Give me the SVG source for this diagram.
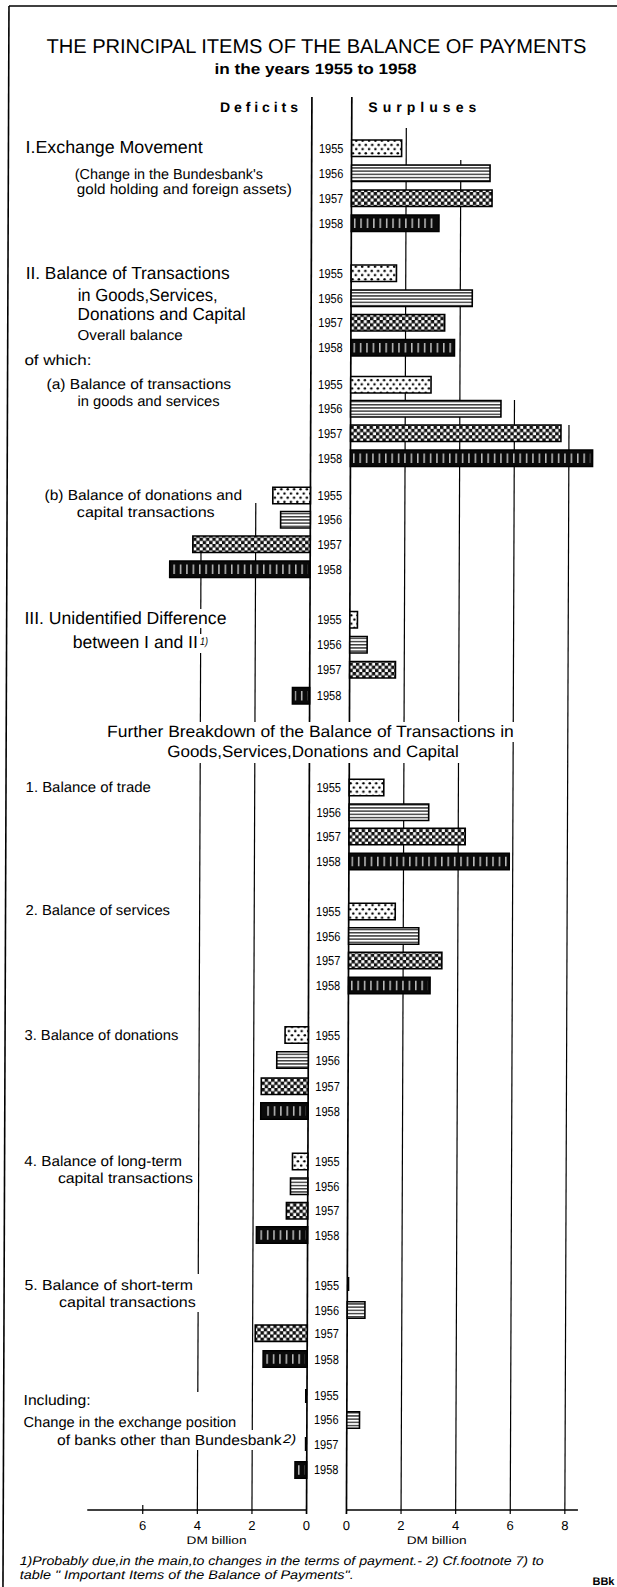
<svg xmlns="http://www.w3.org/2000/svg" width="617" height="1587" viewBox="0 0 617 1587">
<style>
.t{font-family:"Liberation Sans",Arial,sans-serif;fill:#000}
.L{font-size:17.5px}
.M{font-size:14.5px}
.yr{font-size:13px}
.ax{font-size:13px;text-anchor:middle}
.it{font-style:italic}
.bar{stroke:#000;stroke-width:1.6}
.y55{fill:url(#p55)}
.y56{fill:url(#p56)}
.y57{fill:url(#p57)}
.y58{fill:#0a0a0a}
.in58{fill:url(#p58)}
.zero{stroke:#000;stroke-width:1.7;fill:none}
.grid{stroke:#000;stroke-width:1.2;fill:none}
.mask{fill:#fff}
</style>
<defs>
<pattern id="p55" width="6.4" height="8.4" patternUnits="userSpaceOnUse">
<rect width="6.4" height="8.4" fill="#fff"/>
<circle cx="1.6" cy="2.1" r="1.25" fill="#000"/>
<circle cx="4.8" cy="6.3" r="1.25" fill="#000"/>
</pattern>
<pattern id="p56" width="6" height="3.2" patternUnits="userSpaceOnUse">
<rect width="6" height="3.2" fill="#fff"/>
<rect y="1" width="6" height="1.1" fill="#000"/>
</pattern>
<pattern id="p57" width="6.4" height="6.4" patternUnits="userSpaceOnUse">
<rect width="6.4" height="6.4" fill="#111"/>
<rect x="0.2" y="0.2" width="3" height="3" fill="#fff"/>
<rect x="3.4" y="3.4" width="3" height="3" fill="#fff"/>
</pattern>
<pattern id="p58" width="6.4" height="4" patternUnits="userSpaceOnUse">
<rect width="6.4" height="4" fill="#0a0a0a"/>
<rect x="3" width="1.1" height="4" fill="#fff"/>
</pattern>
</defs>
<rect width="617" height="1587" fill="#fff"/>
<g transform="skewX(-0.2177)">
<g id="frame">
<line x1="9" y1="6" x2="625" y2="6" stroke="#000" stroke-width="1.6"/>
<line x1="9" y1="6" x2="9" y2="1590" stroke="#000" stroke-width="1.6"/>
</g>
<g id="connectors">
<line class="zero" x1="312.3" y1="97" x2="312.3" y2="1514"/>
<line class="zero" x1="352.2" y1="97" x2="352.2" y2="1514"/>
<line class="grid" x1="406.8" y1="128" x2="406.8" y2="1514"/>
<line class="grid" x1="461.4" y1="160" x2="461.4" y2="1514"/>
<line class="grid" x1="516" y1="400" x2="516" y2="1514"/>
<line class="grid" x1="570.6" y1="425" x2="570.6" y2="1514"/>
<line class="grid" x1="257.7" y1="503" x2="257.7" y2="1514"/>
<line class="grid" x1="203.1" y1="536" x2="203.1" y2="1514"/>
<line class="zero" x1="93" y1="1510" x2="312.3" y2="1510"/>
<line class="zero" x1="352.2" y1="1510" x2="583.7" y2="1510"/>
<line class="grid" x1="148.5" y1="1505" x2="148.5" y2="1514"/>
</g>
<g id="masks">
<rect class="mask" x="107" y="722" width="411" height="20"/>
<rect class="mask" x="167" y="742" width="297" height="21"/>
<rect class="mask" x="24" y="609" width="206" height="19"/>
<rect class="mask" x="73" y="634" width="140" height="19"/>
<rect class="mask" x="27" y="1274" width="178" height="38"/>
<rect class="mask" x="27" y="1392" width="178" height="38"/>
<rect class="mask" x="60" y="1430" width="246" height="20"/>
</g>
<g id="title">
<text class="t" x="46.7" y="52.7" font-size="20" textLength="540" lengthAdjust="spacingAndGlyphs">THE PRINCIPAL ITEMS OF THE BALANCE OF PAYMENTS</text>
<text class="t" x="214.9" y="74" font-size="15" font-weight="bold" textLength="202" lengthAdjust="spacingAndGlyphs">in the years 1955 to 1958</text>
<text class="t" x="220.4" y="111.7" font-size="14" font-weight="bold" textLength="78" lengthAdjust="spacing">Deficits</text>
<text class="t" x="368.7" y="112" font-size="14" font-weight="bold" textLength="108" lengthAdjust="spacing">Surpluses</text>
</g>
<g id="section-I">
<text class="t L" x="26.2" y="153.3" textLength="177" lengthAdjust="spacingAndGlyphs">I.Exchange Movement</text>
<text class="t M" x="75.5" y="179" textLength="188" lengthAdjust="spacingAndGlyphs">(Change in the Bundesbank's</text>
<text class="t M" x="77.5" y="194.5" textLength="215" lengthAdjust="spacingAndGlyphs">gold holding and foreign assets)</text>
<rect class="bar y55" x="352.2" y="140" width="50" height="16.5"/>
<rect class="bar y56" x="352.2" y="165" width="138.5" height="16.5"/>
<rect class="bar y57" x="352.2" y="190" width="140.6" height="16.5"/>
<rect class="bar y58" x="352.2" y="215" width="87.6" height="16.5"/><rect class="in58" x="354.5" y="218.5" width="83" height="9.5"/>
<text class="t yr" x="319.5" y="153" textLength="24.5" lengthAdjust="spacingAndGlyphs">1955</text>
<text class="t yr" x="319.5" y="178" textLength="24.5" lengthAdjust="spacingAndGlyphs">1956</text>
<text class="t yr" x="319.5" y="203" textLength="24.5" lengthAdjust="spacingAndGlyphs">1957</text>
<text class="t yr" x="319.5" y="228" textLength="24.5" lengthAdjust="spacingAndGlyphs">1958</text>
</g>
<g id="section-II">
<text class="t L" x="26.7" y="279" textLength="204" lengthAdjust="spacingAndGlyphs">II. Balance of Transactions</text>
<text class="t L" x="78.8" y="301" textLength="140" lengthAdjust="spacingAndGlyphs">in Goods,Services,</text>
<text class="t L" x="78.8" y="320" textLength="168" lengthAdjust="spacingAndGlyphs">Donations and Capital</text>
<text class="t M" x="78.9" y="340" textLength="105" lengthAdjust="spacingAndGlyphs">Overall balance</text>
<text class="t M" x="25.8" y="365" textLength="67" lengthAdjust="spacingAndGlyphs">of which:</text>
<rect class="bar y55" x="352.2" y="265" width="45.3" height="16.5"/>
<rect class="bar y56" x="352.2" y="290" width="121.2" height="16.5"/>
<rect class="bar y57" x="352.2" y="314.5" width="93.7" height="16.5"/>
<rect class="bar y58" x="352.2" y="339.5" width="103.6" height="16.5"/><rect class="in58" x="354.5" y="343" width="99" height="9.5"/>
<text class="t yr" x="319.5" y="278" textLength="24.5" lengthAdjust="spacingAndGlyphs">1955</text>
<text class="t yr" x="319.5" y="303" textLength="24.5" lengthAdjust="spacingAndGlyphs">1956</text>
<text class="t yr" x="319.5" y="327.5" textLength="24.5" lengthAdjust="spacingAndGlyphs">1957</text>
<text class="t yr" x="319.5" y="352.5" textLength="24.5" lengthAdjust="spacingAndGlyphs">1958</text>
</g>
<g id="section-IIa">
<text class="t M" x="48" y="389.5" textLength="184.5" lengthAdjust="spacingAndGlyphs">(a) Balance of transactions</text>
<text class="t M" x="79.1" y="406.3" textLength="142" lengthAdjust="spacingAndGlyphs">in goods and services</text>
<rect class="bar y55" x="352.2" y="376.5" width="80.3" height="16.5"/>
<rect class="bar y56" x="352.2" y="400.5" width="150.3" height="16.5"/>
<rect class="bar y57" x="352.2" y="425" width="210.4" height="16.5"/>
<rect class="bar y58" x="352.2" y="450" width="242.1" height="16.5"/><rect class="in58" x="354.5" y="453.5" width="237.5" height="9.5"/>
<text class="t yr" x="319.5" y="389.5" textLength="24.5" lengthAdjust="spacingAndGlyphs">1955</text>
<text class="t yr" x="319.5" y="413.5" textLength="24.5" lengthAdjust="spacingAndGlyphs">1956</text>
<text class="t yr" x="319.5" y="438" textLength="24.5" lengthAdjust="spacingAndGlyphs">1957</text>
<text class="t yr" x="319.5" y="463" textLength="24.5" lengthAdjust="spacingAndGlyphs">1958</text>
</g>
<g id="section-IIb">
<text class="t M" x="46.4" y="500.5" textLength="197.5" lengthAdjust="spacingAndGlyphs">(b) Balance of donations and</text>
<text class="t M" x="78.8" y="517" textLength="137.8" lengthAdjust="spacingAndGlyphs">capital transactions</text>
<rect class="bar y55" x="274.7" y="487.3" width="37.6" height="16.5"/>
<rect class="bar y56" x="282.6" y="511.5" width="29.7" height="16.5"/>
<rect class="bar y57" x="194.9" y="536" width="117.4" height="16.5"/>
<rect class="bar y58" x="171.9" y="561" width="140.4" height="16.5"/><rect class="in58" x="174.2" y="564.5" width="135.8" height="9.5"/>
<text class="t yr" x="319.5" y="500.3" textLength="24.5" lengthAdjust="spacingAndGlyphs">1955</text>
<text class="t yr" x="319.5" y="524.5" textLength="24.5" lengthAdjust="spacingAndGlyphs">1956</text>
<text class="t yr" x="319.5" y="549" textLength="24.5" lengthAdjust="spacingAndGlyphs">1957</text>
<text class="t yr" x="319.5" y="574" textLength="24.5" lengthAdjust="spacingAndGlyphs">1958</text>
</g>
<g id="section-III">
<text class="t L" x="26.8" y="624" textLength="202" lengthAdjust="spacingAndGlyphs">III. Unidentified Difference</text>
<text class="t L" x="75.3" y="648.3" textLength="125" lengthAdjust="spacingAndGlyphs">between I and II</text>
<text class="t it" x="202.5" y="645" font-size="11" textLength="8" lengthAdjust="spacingAndGlyphs">1)</text>
<rect class="bar y55" x="352.2" y="611.5" width="7.6" height="16.5"/>
<rect class="bar y56" x="352.2" y="636.5" width="17.4" height="16.5"/>
<rect class="bar y57" x="352.2" y="661.5" width="45.8" height="16.5"/>
<rect class="bar y58" x="295.1" y="687.5" width="17.2" height="16.5"/><rect class="in58" x="297.4" y="691" width="12.6" height="9.5"/>
<text class="t yr" x="319.5" y="624.5" textLength="24.5" lengthAdjust="spacingAndGlyphs">1955</text>
<text class="t yr" x="319.5" y="649.5" textLength="24.5" lengthAdjust="spacingAndGlyphs">1956</text>
<text class="t yr" x="319.5" y="674.5" textLength="24.5" lengthAdjust="spacingAndGlyphs">1957</text>
<text class="t yr" x="319.5" y="700.5" textLength="24.5" lengthAdjust="spacingAndGlyphs">1958</text>
</g>
<g id="breakdown-heading">
<text class="t" x="109.8" y="736.7" font-size="16.5" textLength="406.8" lengthAdjust="spacingAndGlyphs">Further Breakdown of the Balance of Transactions in</text>
<text class="t" x="170.2" y="757.5" font-size="16.5" textLength="291.4" lengthAdjust="spacingAndGlyphs">Goods,Services,Donations and Capital</text>
</g>
<g id="item-1">
<text class="t M" x="28.6" y="792" textLength="125.2" lengthAdjust="spacingAndGlyphs">1. Balance of trade</text>
<rect class="bar y55" x="352.2" y="779.3" width="34.6" height="16.5"/>
<rect class="bar y56" x="352.2" y="804" width="79.6" height="16.5"/>
<rect class="bar y57" x="352.2" y="828.3" width="116.2" height="16.5"/>
<rect class="bar y58" x="352.2" y="853.3" width="160.3" height="16.5"/><rect class="in58" x="354.5" y="856.8" width="155.7" height="9.5"/>
<text class="t yr" x="319.5" y="792.3" textLength="24.5" lengthAdjust="spacingAndGlyphs">1955</text>
<text class="t yr" x="319.5" y="817" textLength="24.5" lengthAdjust="spacingAndGlyphs">1956</text>
<text class="t yr" x="319.5" y="841.3" textLength="24.5" lengthAdjust="spacingAndGlyphs">1957</text>
<text class="t yr" x="319.5" y="866.3" textLength="24.5" lengthAdjust="spacingAndGlyphs">1958</text>
</g>
<g id="item-2">
<text class="t M" x="29.1" y="915.5" textLength="144.4" lengthAdjust="spacingAndGlyphs">2. Balance of services</text>
<rect class="bar y55" x="352.2" y="903.3" width="46.5" height="16.5"/>
<rect class="bar y56" x="352.2" y="927.7" width="70.1" height="16.5"/>
<rect class="bar y57" x="352.2" y="952.3" width="93.3" height="16.5"/>
<rect class="bar y58" x="352.2" y="977.3" width="81.6" height="16.5"/><rect class="in58" x="354.5" y="980.8" width="77" height="9.5"/>
<text class="t yr" x="319.5" y="916.3" textLength="24.5" lengthAdjust="spacingAndGlyphs">1955</text>
<text class="t yr" x="319.5" y="940.7" textLength="24.5" lengthAdjust="spacingAndGlyphs">1956</text>
<text class="t yr" x="319.5" y="965.3" textLength="24.5" lengthAdjust="spacingAndGlyphs">1957</text>
<text class="t yr" x="319.5" y="990.3" textLength="24.5" lengthAdjust="spacingAndGlyphs">1958</text>
</g>
<g id="item-3">
<text class="t M" x="28.4" y="1040" textLength="153.9" lengthAdjust="spacingAndGlyphs">3. Balance of donations</text>
<rect class="bar y55" x="289" y="1026.7" width="23.3" height="16.5"/>
<rect class="bar y56" x="280.8" y="1051.7" width="31.5" height="16.5"/>
<rect class="bar y57" x="265.4" y="1078" width="46.9" height="16.5"/>
<rect class="bar y58" x="265" y="1102.7" width="47.3" height="16.5"/><rect class="in58" x="267.3" y="1106.2" width="42.7" height="9.5"/>
<text class="t yr" x="319.5" y="1039.7" textLength="24.5" lengthAdjust="spacingAndGlyphs">1955</text>
<text class="t yr" x="319.5" y="1064.7" textLength="24.5" lengthAdjust="spacingAndGlyphs">1956</text>
<text class="t yr" x="319.5" y="1091" textLength="24.5" lengthAdjust="spacingAndGlyphs">1957</text>
<text class="t yr" x="319.5" y="1115.7" textLength="24.5" lengthAdjust="spacingAndGlyphs">1958</text>
</g>
<g id="item-4">
<text class="t M" x="28.8" y="1166.3" textLength="157.5" lengthAdjust="spacingAndGlyphs">4. Balance of long-term</text>
<text class="t M" x="62.4" y="1183.5" textLength="135.1" lengthAdjust="spacingAndGlyphs">capital transactions</text>
<rect class="bar y55" x="296.9" y="1153.3" width="15.4" height="16.5"/>
<rect class="bar y56" x="295" y="1178" width="17.3" height="16.5"/>
<rect class="bar y57" x="291" y="1202.5" width="21.3" height="16.5"/>
<rect class="bar y58" x="261.1" y="1226.7" width="51.2" height="16.5"/><rect class="in58" x="263.4" y="1230.2" width="46.6" height="9.5"/>
<text class="t yr" x="319.5" y="1166.3" textLength="24.5" lengthAdjust="spacingAndGlyphs">1955</text>
<text class="t yr" x="319.5" y="1191" textLength="24.5" lengthAdjust="spacingAndGlyphs">1956</text>
<text class="t yr" x="319.5" y="1215.5" textLength="24.5" lengthAdjust="spacingAndGlyphs">1957</text>
<text class="t yr" x="319.5" y="1239.7" textLength="24.5" lengthAdjust="spacingAndGlyphs">1958</text>
</g>
<g id="item-5">
<text class="t M" x="29.3" y="1290" textLength="168.6" lengthAdjust="spacingAndGlyphs">5. Balance of short-term</text>
<text class="t M" x="64" y="1306.7" textLength="136.7" lengthAdjust="spacingAndGlyphs">capital transactions</text>
<rect x="352.2" y="1277" width="2" height="14" fill="#000"/>
<rect class="bar y56" x="352.2" y="1301.7" width="17.7" height="16.5"/>
<rect class="bar y57" x="260.3" y="1325" width="52" height="16.5"/>
<rect class="bar y58" x="268.3" y="1350.7" width="44" height="16.5"/><rect class="in58" x="270.6" y="1354.2" width="39.4" height="9.5"/>
<text class="t yr" x="319.5" y="1290" textLength="24.5" lengthAdjust="spacingAndGlyphs">1955</text>
<text class="t yr" x="319.5" y="1314.7" textLength="24.5" lengthAdjust="spacingAndGlyphs">1956</text>
<text class="t yr" x="319.5" y="1338" textLength="24.5" lengthAdjust="spacingAndGlyphs">1957</text>
<text class="t yr" x="319.5" y="1363.7" textLength="24.5" lengthAdjust="spacingAndGlyphs">1958</text>
</g>
<g id="item-including">
<text class="t M" x="28.9" y="1405.5" textLength="67" lengthAdjust="spacingAndGlyphs">Including:</text>
<text class="t M" x="29" y="1426.7" textLength="212.6" lengthAdjust="spacingAndGlyphs">Change in the exchange position</text>
<text class="t M" x="62.5" y="1445.5" textLength="224.5" lengthAdjust="spacingAndGlyphs">of banks other than Bundesbank</text>
<text class="t it" x="288.5" y="1443" font-size="12.5" textLength="13" lengthAdjust="spacingAndGlyphs">2)</text>
<rect x="310.3" y="1389" width="2" height="14" fill="#000"/>
<rect class="bar y56" x="352.2" y="1411.7" width="12.7" height="16.5"/>
<rect x="310.3" y="1437" width="2" height="14" fill="#000"/>
<rect class="bar y58" x="300.6" y="1461.7" width="11.7" height="16.5"/><rect class="in58" x="302.9" y="1465.2" width="7.1" height="9.5"/>
<text class="t yr" x="319.5" y="1400.5" textLength="24.5" lengthAdjust="spacingAndGlyphs">1955</text>
<text class="t yr" x="319.5" y="1424.5" textLength="24.5" lengthAdjust="spacingAndGlyphs">1956</text>
<text class="t yr" x="319.5" y="1449" textLength="24.5" lengthAdjust="spacingAndGlyphs">1957</text>
<text class="t yr" x="319.5" y="1474.5" textLength="24.5" lengthAdjust="spacingAndGlyphs">1958</text>
</g>
<g id="axis-labels">
<text class="t ax" x="148.5" y="1530">6</text>
<text class="t ax" x="203.1" y="1530">4</text>
<text class="t ax" x="257.7" y="1530">2</text>
<text class="t ax" x="312.3" y="1530">0</text>
<text class="t ax" x="352.2" y="1530">0</text>
<text class="t ax" x="406.8" y="1530">2</text>
<text class="t ax" x="461.4" y="1530">4</text>
<text class="t ax" x="516" y="1530">6</text>
<text class="t ax" x="570.6" y="1530">8</text>
<text class="t" x="192.4" y="1544" font-size="11" textLength="60" lengthAdjust="spacingAndGlyphs">DM billion</text>
<text class="t" x="412.5" y="1544" font-size="11" textLength="60" lengthAdjust="spacingAndGlyphs">DM billion</text>
</g>
<g id="footnotes">
<text class="t it" x="25.7" y="1565" font-size="12.5" textLength="524" lengthAdjust="spacingAndGlyphs">1)Probably due,in the main,to changes in the terms of payment.- 2) Cf.footnote 7) to</text>
<text class="t it" x="25.7" y="1579" font-size="12.5" textLength="334" lengthAdjust="spacingAndGlyphs">table " Important Items of the Balance of Payments".</text>
<text class="t" x="598.5" y="1585" font-size="11" font-weight="bold">BBk</text>
</g>
</g>
</svg>
